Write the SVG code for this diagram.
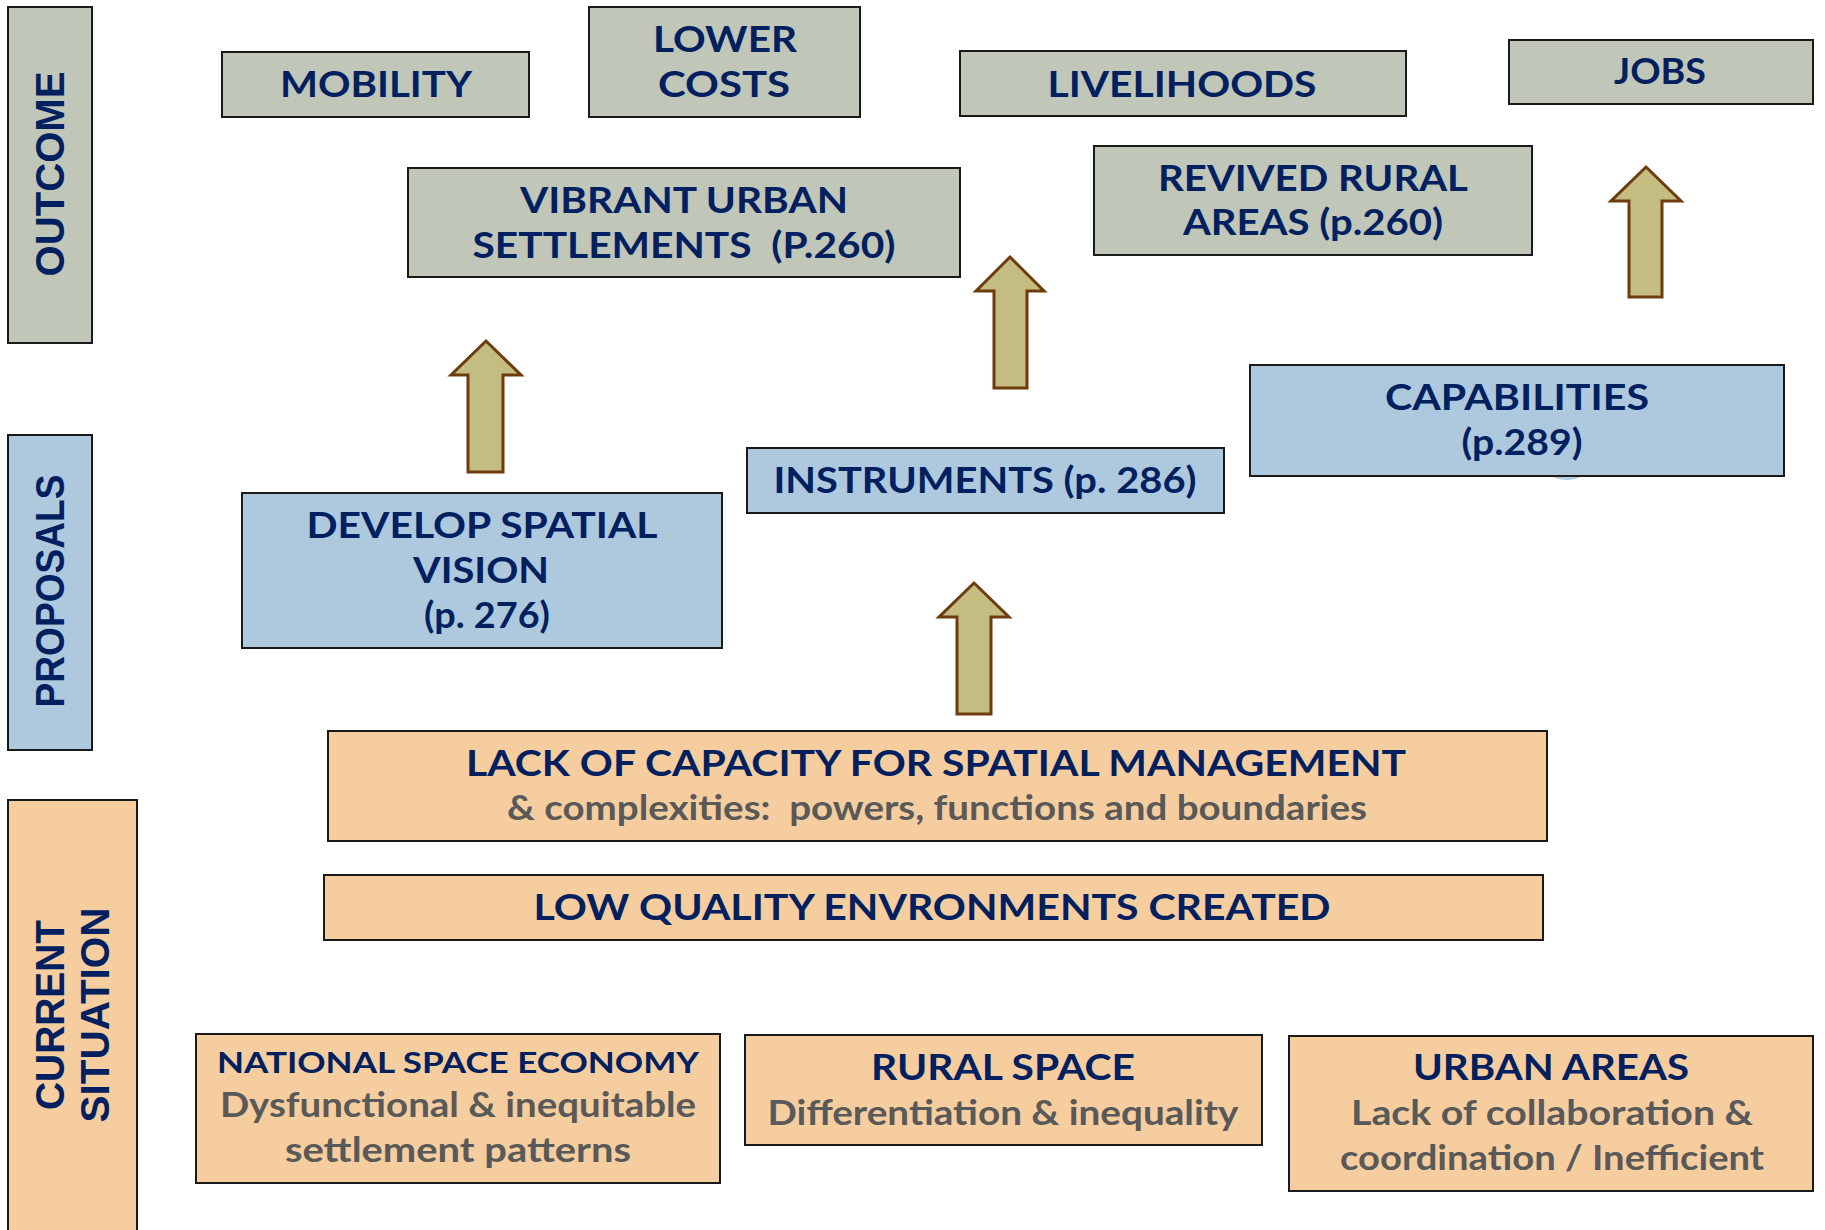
<svg xmlns="http://www.w3.org/2000/svg" width="1825" height="1230" viewBox="0 0 1825 1230">
<style>
.g{fill:#c0c6b8;stroke:#1a1a1a;stroke-width:2}
.b{fill:#aec8de;stroke:#1a1a1a;stroke-width:2}
.o{fill:#f6cd9e;stroke:#1a1a1a;stroke-width:2}
.t{font-family:Lato,"Liberation Sans",sans-serif;font-weight:bold;font-size:36px;fill:#002060;text-anchor:middle}
.s{font-family:Lato,"Liberation Sans",sans-serif;font-weight:bold;font-size:35px;fill:#595959;text-anchor:middle}
.v{font-family:"Liberation Sans",Arial,sans-serif;font-weight:bold;font-size:40px;fill:#002060;text-anchor:middle}
.a{fill:#c4bd82;stroke:#6e3c0c;stroke-width:3;stroke-linejoin:miter}
</style>
<rect width="1825" height="1230" fill="#ffffff"/>

<g id="outcome">
<rect class="g" x="8" y="7" width="84" height="336"/>
<text class="v" transform="translate(64,174) rotate(-90)" textLength="205" lengthAdjust="spacingAndGlyphs">OUTCOME</text>
</g>
<g id="proposals">
<rect class="b" x="8" y="435" width="84" height="315"/>
<text class="v" transform="translate(64,591) rotate(-90)" textLength="233" lengthAdjust="spacingAndGlyphs">PROPOSALS</text>
</g>
<g id="current-situation">
<rect class="o" x="8" y="800" width="129" height="432"/>
<text class="v" transform="translate(64,1015) rotate(-90)" textLength="190" lengthAdjust="spacingAndGlyphs">CURRENT</text>
<text class="v" transform="translate(109,1015) rotate(-90)" textLength="215" lengthAdjust="spacingAndGlyphs">SITUATION</text>
</g>

<g id="mobility">
<rect class="g" x="222" y="52" width="307" height="65"/>
<text class="t" x="376" y="97" textLength="192" lengthAdjust="spacingAndGlyphs">MOBILITY</text>
</g>
<g id="lower-costs">
<rect class="g" x="589" y="7" width="271" height="110"/>
<text class="t" x="725" y="52" textLength="144" lengthAdjust="spacingAndGlyphs">LOWER</text>
<text class="t" x="724" y="97" textLength="132" lengthAdjust="spacingAndGlyphs">COSTS</text>
</g>
<g id="livelihoods">
<rect class="g" x="960" y="51" width="446" height="65"/>
<text class="t" x="1182" y="97" textLength="269" lengthAdjust="spacingAndGlyphs">LIVELIHOODS</text>
</g>
<g id="jobs">
<rect class="g" x="1509" y="40" width="304" height="64"/>
<text class="t" x="1660" y="84" textLength="92" lengthAdjust="spacingAndGlyphs">JOBS</text>
</g>
<g id="vibrant-urban">
<rect class="g" x="408" y="168" width="552" height="109"/>
<text class="t" x="684" y="213" textLength="328" lengthAdjust="spacingAndGlyphs">VIBRANT URBAN</text>
<text class="t" x="684" y="258" textLength="423" lengthAdjust="spacingAndGlyphs" xml:space="preserve">SETTLEMENTS  (P.260)</text>
</g>
<g id="revived-rural">
<rect class="g" x="1094" y="146" width="438" height="109"/>
<text class="t" x="1313" y="191" textLength="310" lengthAdjust="spacingAndGlyphs">REVIVED RURAL</text>
<text class="t" x="1313" y="235" textLength="260" lengthAdjust="spacingAndGlyphs">AREAS (p.260)</text>
</g>

<g id="develop-spatial-vision">
<rect class="b" x="242" y="493" width="480" height="155"/>
<text class="t" x="482" y="538" textLength="351" lengthAdjust="spacingAndGlyphs">DEVELOP SPATIAL</text>
<text class="t" x="481" y="583" textLength="136" lengthAdjust="spacingAndGlyphs">VISION</text>
<text class="t" x="487" y="628" textLength="126" lengthAdjust="spacingAndGlyphs">(p. 276)</text>
</g>
<g id="instruments">
<rect class="b" x="747" y="448" width="477" height="65"/>
<text class="t" x="985" y="493" textLength="423" lengthAdjust="spacingAndGlyphs">INSTRUMENTS (p. 286)</text>
</g>
<g id="capabilities">
<ellipse cx="1567" cy="470" rx="19" ry="10" fill="#b4cde2"/>
<rect class="b" x="1250" y="365" width="534" height="111"/>
<text class="t" x="1517" y="410" textLength="264" lengthAdjust="spacingAndGlyphs">CAPABILITIES</text>
<text class="t" x="1522" y="455" textLength="121" lengthAdjust="spacingAndGlyphs">(p.289)</text>
</g>

<g id="lack-of-capacity">
<rect class="o" x="328" y="731" width="1219" height="110"/>
<text class="t" x="936" y="776" textLength="940" lengthAdjust="spacingAndGlyphs">LACK OF CAPACITY FOR SPATIAL MANAGEMENT</text>
<text class="s" x="937" y="820" textLength="860" lengthAdjust="spacingAndGlyphs" xml:space="preserve">&amp; complexities:  powers, functions and boundaries</text>
</g>
<g id="low-quality">
<rect class="o" x="324" y="875" width="1219" height="65"/>
<text class="t" x="932" y="920" textLength="797" lengthAdjust="spacingAndGlyphs">LOW QUALITY ENVRONMENTS CREATED</text>
</g>
<g id="national-space-economy">
<rect class="o" x="196" y="1034" width="524" height="149"/>
<text class="t" x="458" y="1073" style="font-size:29px" textLength="482" lengthAdjust="spacingAndGlyphs">NATIONAL SPACE ECONOMY</text>
<text class="s" x="458" y="1117" textLength="476" lengthAdjust="spacingAndGlyphs">Dysfunctional &amp; inequitable</text>
<text class="s" x="458" y="1162" textLength="346" lengthAdjust="spacingAndGlyphs">settlement patterns</text>
</g>
<g id="rural-space">
<rect class="o" x="745" y="1035" width="517" height="110"/>
<text class="t" x="1003" y="1080" textLength="264" lengthAdjust="spacingAndGlyphs">RURAL SPACE</text>
<text class="s" x="1003" y="1125" textLength="471" lengthAdjust="spacingAndGlyphs">Differentiation &amp; inequality</text>
</g>
<g id="urban-areas">
<rect class="o" x="1289" y="1036" width="524" height="155"/>
<text class="t" x="1551" y="1080" textLength="276" lengthAdjust="spacingAndGlyphs">URBAN AREAS</text>
<text class="s" x="1552" y="1125" textLength="402" lengthAdjust="spacingAndGlyphs">Lack of collaboration &amp;</text>
<text class="s" x="1552" y="1170" textLength="424" lengthAdjust="spacingAndGlyphs">coordination / Inefficient</text>
</g>

<g id="connectors">
<path class="a" d="M486,341 L521,375 L503,375 L503,472 L468,472 L468,375 L451,375 Z"/>
<path class="a" d="M1010,257 L1044,291 L1027,291 L1027,388 L994,388 L994,291 L976,291 Z"/>
<path class="a" d="M974,583 L1009,617 L991,617 L991,714 L957,714 L957,617 L939,617 Z"/>
<path class="a" d="M1646,167 L1681,201 L1662,201 L1662,297 L1629,297 L1629,201 L1611,201 Z"/>
</g>
</svg>
